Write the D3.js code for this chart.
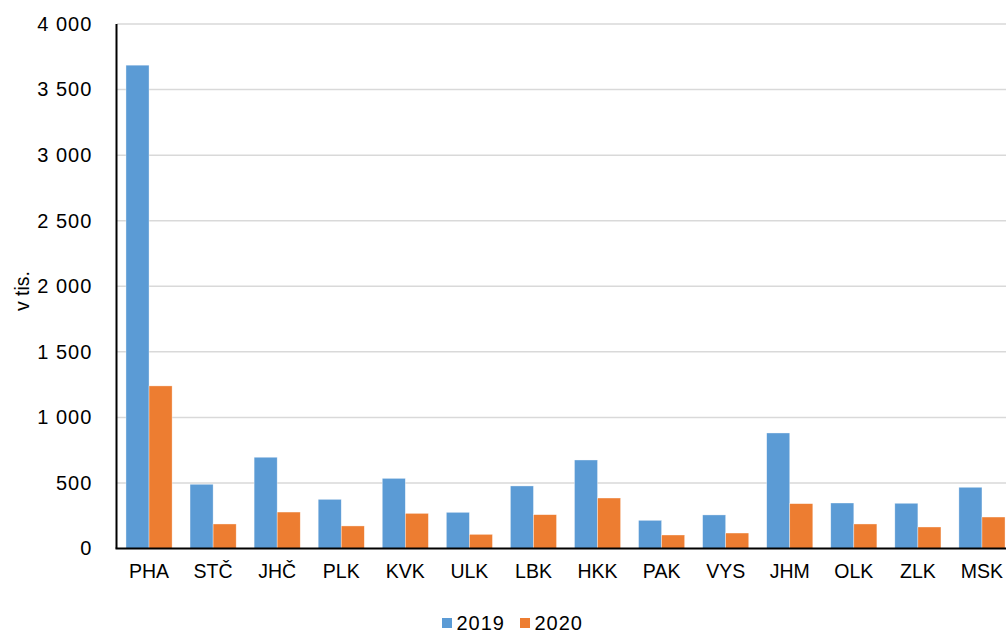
<!DOCTYPE html>
<html>
<head>
<meta charset="utf-8">
<script src="https://cdn.jsdelivr.net/npm/d3@7"></script>
<style>
  html, body { margin: 0; padding: 0; background: #fff; }
  svg { display: block; font-family: "Liberation Sans", Arial, sans-serif; }
</style>
</head>
<body>
<svg id="chart" width="1006" height="633"></svg>
<script>
const categories = ["PHA","STČ","JHČ","PLK","KVK","ULK","LBK","HKK","PAK","VYS","JHM","OLK","ZLK","MSK"];
const seriesNames = ["2019","2020"];
const values2019 = [3686, 490, 696, 375, 535, 276, 477, 675, 215, 256, 881, 347, 345, 467];
const values2020 = [1240, 187, 278, 172, 268, 108, 258, 385, 103, 118, 342, 187, 164, 240];
const yTicks = [0, 500, 1000, 1500, 2000, 2500, 3000, 3500, 4000];
const colors = ["#5B9BD5", "#ED7D31"];

(function () {
const svg = d3.select("#chart");
const W = 1006, H = 633;
const mLeft = 117, mRight = 1014, mTop = 24, mBottom = 548.5;
const FF = "Liberation Sans, Arial, sans-serif";

const x0 = d3.scaleBand().domain(categories).range([mLeft, mRight]).paddingInner(0.28).paddingOuter(0.14);
const x1 = d3.scaleBand().domain(seriesNames).range([0, x0.bandwidth()]).padding(0);
const y = d3.scaleLinear().domain([0, 4000]).range([mBottom, mTop]);

const loc = d3.formatLocale({decimal: ",", thousands: " ", grouping: [3], currency: ["", ""]});
const fmt = loc.format(",d");

// gridlines
svg.append("g").selectAll("line").data(yTicks.filter(d => d > 0)).join("line")
  .attr("x1", mLeft).attr("x2", W)
  .attr("y1", d => y(d)).attr("y2", d => y(d))
  .attr("stroke", "#D9D9D9").attr("stroke-width", 1.5);

// bars
const data = categories.map((c, i) => ({c, vals: [values2019[i], values2020[i]]}));
const g = svg.append("g");
data.forEach(d => {
  seriesNames.forEach((s, j) => {
    g.append("rect")
      .attr("x", x0(d.c) + x1(s))
      .attr("y", y(d.vals[j]))
      .attr("width", x1.bandwidth())
      .attr("height", y(0) - y(d.vals[j]))
      .attr("fill", colors[j])
      .attr("stroke", "#fff").attr("stroke-width", 0.6).attr("stroke-opacity", 0.6);
  });
});

// y axis
const yAxis = d3.axisLeft(y).tickValues(yTicks).tickFormat(fmt).tickSize(0).tickPadding(24.2);
const ya = svg.append("g").attr("transform", `translate(${mLeft - 0.5},0)`).call(yAxis);
ya.select(".domain").attr("stroke", "#000").attr("stroke-width", 2).attr("d", `M0,${mTop}V${mBottom}`);
ya.selectAll("text").attr("font-size", 20).attr("fill", "#000")
  .attr("font-family", FF).attr("letter-spacing", 1.0);

// x axis
const xAxis = d3.axisBottom(x0).tickSize(0).tickPadding(15.2);
const xa = svg.append("g").attr("transform", `translate(0,${mBottom})`).call(xAxis);
xa.select(".domain").attr("stroke", "#000").attr("stroke-width", 2).attr("d", `M${mLeft - 1.5},0H${W}`);
xa.selectAll("text").attr("font-size", 19.5).attr("fill", "#000")
  .attr("font-family", FF);

// y title
svg.append("text")
  .attr("transform", `translate(29,291) rotate(-90)`)
  .attr("text-anchor", "middle")
  .attr("font-size", 19.5).attr("fill", "#000")
  .text("v tis.");

// legend
const legendItems = [{name: "2019", x: 442}, {name: "2020", x: 520}];
const lg = svg.append("g");
legendItems.forEach((it, i) => {
  lg.append("rect").attr("x", it.x).attr("y", 618).attr("width", 10).attr("height", 10).attr("fill", colors[i]);
  lg.append("text").attr("x", it.x + 14.5).attr("y", 629.5).attr("font-size", 20)
    .attr("letter-spacing", 1.0).attr("fill", "#000").text(it.name);
});
})();
</script>
</body>
</html>
